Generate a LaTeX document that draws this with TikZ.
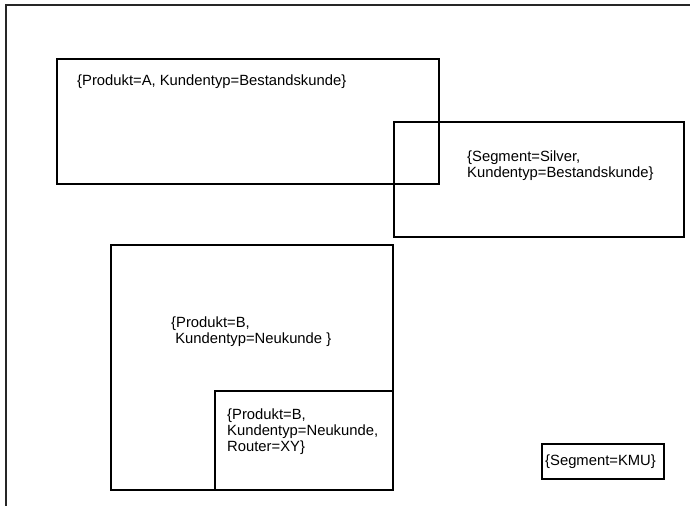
\documentclass[tikz,border=0pt]{standalone}
\usepackage{fontspec}
\setmainfont{Liberation Sans}
\begin{document}
\begin{tikzpicture}[x=1pt,y=-1pt,
  box/.style={draw=black,line width=1.6pt,rectangle,inner sep=0pt,anchor=north west},
  lbl/.style={inner sep=0pt,anchor=base west,align=left,font=\fontsize{14.8}{15.8}\selectfont},
  frame/.style={draw=black!85,line width=1.7pt}]
\useasboundingbox (0,0) rectangle (690,506);
\coordinate (ftl) at (6,5);
\coordinate (ftr) at (690,5);
\coordinate (fbl) at (6,506);
\draw[frame] (ftr) -- (ftl) -- (fbl);
% boxes
\node[box,minimum width=382pt,minimum height=125pt] (b1) at (56,58) {};
\node[box,minimum width=290pt,minimum height=115pt] (b2) at (393,121) {};
\node[box,minimum width=282pt,minimum height=245pt] (b3) at (110,244) {};
\node[box,minimum width=178pt,minimum height=99pt] (b4) at (214,390) {};
\node[box,minimum width=122pt,minimum height=35pt] (b5) at (541,443) {};
% labels (base = last line)
\node[lbl] (t1) at (77,85.5) {\{Produkt=A, Kundentyp=Bestandskunde\}};
\node[lbl] (t2) at (467,177) {\{Segment=Silver,\\Kundentyp=Bestandskunde\}};
\node[lbl] (t3) at (171,343) {\{Produkt=B,\\\ Kundentyp=Neukunde \}};
\node[lbl] (t4) at (227,451) {\{Produkt=B,\\Kundentyp=Neukunde,\\Router=XY\}};
\node[lbl] (t5) at (545,465) {\{Segment=KMU\}};
\end{tikzpicture}
\end{document}
